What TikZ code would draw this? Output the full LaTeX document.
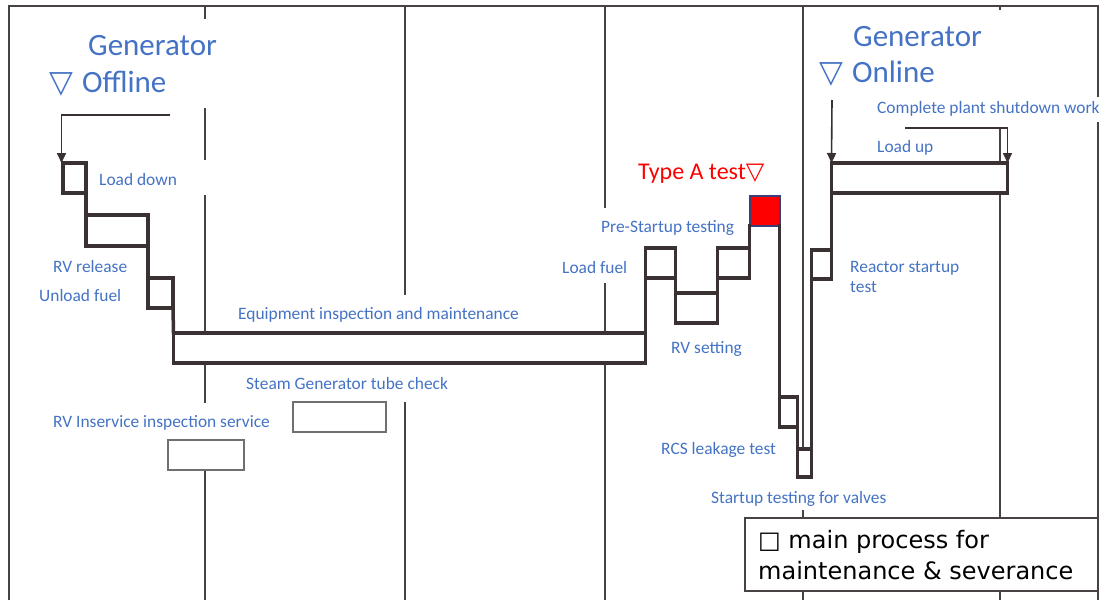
\documentclass[tikz,border=0pt]{standalone}
\usepackage{fontspec}
\setmainfont{Carlito}
\newfontfamily\dvsfont{DejaVu Sans}
\usetikzlibrary{arrows.meta}

\begin{document}
\begin{tikzpicture}[x=1pt, y=-1pt, font=\fontsize{17.4}{20}\selectfont,
    grd/.style={draw=shutgrid, line width=2.2pt},
    stepbox/.style={draw=shutline, line width=3.5pt, fill=white, inner sep=0pt, outer sep=0pt},
    subbox/.style={draw=shutbox, line width=1.8pt, fill=white, inner sep=0pt},
    link/.style={draw=shutline, line width=3.5pt, line cap=rect},
    arr/.style={draw=shutline, line width=1.6pt, -{Triangle[width=9pt, length=10pt]}},
    lbl/.style={text=shutblue, anchor=base west, inner sep=0pt},
    big/.style={text=shutblue, anchor=base west, inner sep=0pt, font=\fontsize{31}{36}\selectfont}]
  \definecolor{shutgrid}{RGB}{72,66,66}
  \definecolor{shutline}{RGB}{58,50,50}
  \definecolor{shutbox}{RGB}{112,112,112}
  \definecolor{shutblue}{RGB}{68,114,196}
  \definecolor{shutred}{RGB}{255,0,0}
  \definecolor{shutedge}{RGB}{60,62,120}
  \useasboundingbox (0,0) rectangle (1105,600);
  % ---- frame and period lines ------------------------------------------------
  \draw[grd] (9,600) -- (9,6) -- (1098,6) -- (1098,97);
  \draw[grd] (1098,122) -- (1098,600);
  \foreach \x/\a/\b in {205/6/19, 205/108/160, 205/195/403, 205/440/600,
      405/6/295, 405/402/600, 605/6/208, 605/283/600,
      803/6/449, 803/510/600, 1000/6/10, 1000/128/600} {
    \draw[grd] (\x,\a) -- (\x,\b);}
  % ---- main process steps ----------------------------------------------------
  \node[stepbox, minimum width=23pt, minimum height=30pt] (ldn) at (74.5,178) {};
  \node[stepbox, minimum width=62pt, minimum height=31pt] (rvr) at (117,230.5) {};
  \node[stepbox, minimum width=25pt, minimum height=30pt] (ulf) at (160.5,293) {};
  \node[stepbox, minimum width=472pt, minimum height=30pt] (eqp) at (409.5,348) {};
  \node[stepbox, minimum width=30pt, minimum height=30pt] (lfu) at (660.5,263) {};
  \node[stepbox, minimum width=42pt, minimum height=30pt] (rvs) at (696.5,308) {};
  \node[stepbox, minimum width=32pt, minimum height=30pt] (pst) at (733.5,263) {};
  \node[stepbox, fill=shutred, draw=shutedge, line width=2pt, minimum width=30pt, minimum height=30pt] (tya) at (764.5,211) {};
  \node[stepbox, minimum width=18pt, minimum height=30pt] (rcs) at (788.5,412) {};
  \node[stepbox, minimum width=14pt, minimum height=28pt] (stv) at (804.5,463) {};
  \node[stepbox, minimum width=20pt, minimum height=29pt] (rst) at (821.5,264.5) {};
  \node[stepbox, minimum width=176pt, minimum height=30pt] (lup) at (919.5,178) {};
  % step to step
  \draw[link] (ldn.south east) -- (rvr.north west);
  \draw[link] (rvr.south east) -- (ulf.north west);
  \draw[link] (ulf.south east) -- (eqp.north west);
  \draw[link] (eqp.north east) -- (lfu.south west);
  \draw[link] (lfu.south east) -- (rvs.north west);
  \draw[link] (rvs.north east) -- (pst.south west);
  \draw[link] (pst.north east) -- (tya.south west);
  \draw[link] (tya.south east) -- (rcs.north west);
  \draw[link] (rcs.south east) -- (stv.north west);
  \draw[link] (stv.north east) -- (rst.south west);
  \draw[link] (rst.north east) -- (lup.south west);
  % ---- side works ------------------------------------------------------------
  \node[subbox, minimum width=93pt, minimum height=30pt] (sgt) at (339.5,417) {};
  \node[subbox, minimum width=76pt, minimum height=30pt] (rvi) at (206,455) {};
  % ---- milestones ------------------------------------------------------------
  \node[big] (goff1) at (88,55) {Generator};
  \node[big] (goff2) at (49,92) {{\dvsfont ▽}\hspace{9pt}Offline};
  \node[big] (gon1) at (853,46) {Generator};
  \node[big] (gon2) at (819,82) {{\dvsfont ▽}\hspace{9pt}Online};
  \node[lbl, text=shutred, font=\fontsize{24}{28}\selectfont] (tyat) at (638,179) {Type A test{\dvsfont ▽}};
  \coordinate (offsrc) at (170,115);
  \coordinate (onsrc) at (832,100);
  \coordinate (cpsrc) at (905,128);
  \draw[arr] (offsrc) -| ([xshift=-1.5pt]ldn.north west);
  \draw[arr] (onsrc) -- (lup.north west);
  \draw[arr] (cpsrc) -| (lup.north east);
  % ---- labels ----------------------------------------------------------------
  \node[lbl] (t-ldn) at (99,185) {Load down};
  \node[lbl] (t-rvr) at (53,272) {RV release};
  \node[lbl] (t-ulf) at (39,301) {Unload fuel};
  \node[lbl] (t-eqp) at (238,319) {Equipment inspection and maintenance};
  \node[lbl] (t-sgt) at (246,389) {Steam Generator tube check};
  \node[lbl] (t-rvi) at (53,427) {RV Inservice inspection service};
  \node[lbl] (t-lfu) at (562,273) {Load fuel};
  \node[lbl] (t-pst) at (601,232) {Pre-Startup testing};
  \node[lbl] (t-rvs) at (671,353) {RV setting};
  \node[lbl] (t-rcs) at (661,454) {RCS leakage test};
  \node[lbl] (t-stv) at (711,503) {Startup testing for valves};
  \node[lbl] (t-rst1) at (850,272) {Reactor startup};
  \node[lbl] (t-rst2) at (850,292) {test};
  \node[lbl] (t-lup) at (877,152) {Load up};
  \node[lbl] (t-cps) at (877,113) {Complete plant shutdown work};
  % ---- key -------------------------------------------------------------------
  \node[draw=shutgrid, line width=1.5pt, fill=white, inner sep=0pt,
    minimum width=353pt, minimum height=73pt] (key) at (921.5,554.5) {};
  \node[anchor=base west, inner sep=0pt, font={\dvsfont\fontsize{24}{28}\selectfont}] (key1) at (758,548) {□ main process for};
  \node[anchor=base west, inner sep=0pt, font={\dvsfont\fontsize{24}{28}\selectfont}] (key2) at (758,579) {maintenance \& severance};
\end{tikzpicture}
\end{document}
